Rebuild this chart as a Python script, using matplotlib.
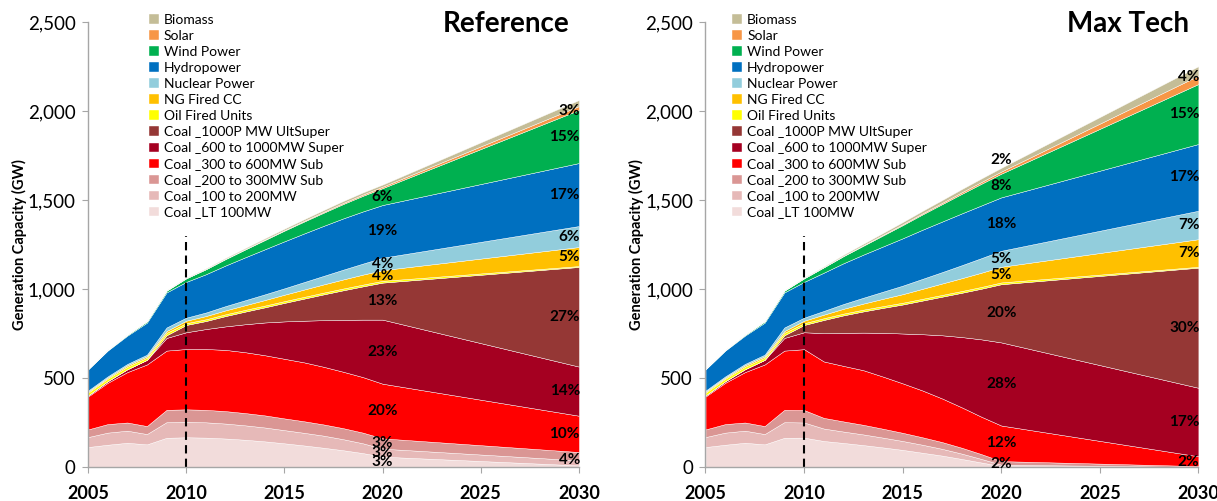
import matplotlib
matplotlib.use("Agg")
import matplotlib.pyplot as plt
import numpy as np

plt.rcParams['font.family'] = ['Lato', 'DejaVu Sans']

years = [2005, 2006, 2007, 2008, 2009, 2010, 2011, 2012, 2013, 2014,
         2015, 2016, 2017, 2018, 2019, 2020, 2030]

# bottom -> top
names = ['Coal _LT 100MW', 'Coal _100 to 200MW', 'Coal _200 to 300MW Sub',
         'Coal _300 to 600MW Sub', 'Coal _600 to 1000MW Super',
         'Coal _1000P MW UltSuper', 'Oil Fired Units', 'NG Fired CC',
         'Nuclear Power', 'Hydropower', 'Wind Power', 'Solar', 'Biomass']
colors = ['#F2DCDB', '#E6B9B8', '#DA9694', '#FF0000', '#A50021', '#953735',
          '#FFFF00', '#FFC000', '#92CDDC', '#0070C0', '#00B050', '#F79646',
          '#C4BD97']

# GW, Reference scenario
ref_lt100 = [112, 125, 136, 127, 164, 167, 165, 160, 153, 144, 133, 121, 108, 94, 78, 58, 9]
ref_c100 = [56, 68, 68, 58, 88, 87, 86, 84, 81, 78, 74, 71, 68, 62, 55, 45, 28]
ref_c200 = [43, 48, 46, 45, 69, 70, 70, 70, 69, 68, 66, 65, 63, 62, 60, 58, 47]
ref_c300 = [185, 232, 283, 346, 333, 339, 342, 344, 342, 338, 335, 331, 324, 317, 312, 307, 204]
ref_c600 = [6, 9, 16, 26, 71, 94, 112, 132, 157, 184, 210, 234, 262, 292, 323, 360, 276]
ref_c1000 = [0, 0, 0, 0, 15, 41, 45, 58, 71, 85, 104, 124, 145, 166, 187, 208, 560]
ref_oil = [15, 14, 14, 12, 14, 10, 10, 10, 10, 10, 10, 10, 10, 10, 10, 10, 5]
ref_ng = [6, 6, 8, 8, 10, 14, 18, 22, 26, 31, 36, 41, 46, 51, 56, 60, 107]
ref_nuc = [6, 7, 8, 9, 20, 17, 20, 24, 28, 32, 36, 42, 48, 55, 62, 70, 118]
ref_hydro = [119, 145, 159, 180, 197, 201, 215, 228, 241, 253, 264, 273, 281, 288, 293, 296, 354]
ref_wind = [2, 3, 5, 8, 10, 20, 28, 36, 44, 52, 60, 67, 74, 81, 88, 95, 298]
ref_solar = [0, 0, 0, 0, 0, 1, 1, 2, 2, 3, 3, 4, 5, 6, 7, 8, 22]
ref_bio = [1, 1, 1, 1, 2, 3, 4, 5, 6, 7, 8, 9, 10, 11, 12, 12, 34]

# GW, Max Tech scenario
mt_lt100 = [112, 125, 136, 127, 164, 165, 146, 135, 123, 110, 96, 80, 64, 45, 25, 5, 0]
mt_c100 = [56, 68, 68, 58, 88, 85, 70, 64, 60, 55, 50, 45, 38, 30, 20, 8, 0]
mt_c200 = [43, 48, 46, 45, 69, 70, 60, 57, 54, 50, 46, 42, 38, 33, 27, 20, 5]
mt_c300 = [185, 232, 283, 346, 333, 342, 317, 312, 307, 293, 278, 263, 245, 227, 210, 200, 55]
mt_c600 = [6, 9, 16, 26, 71, 95, 159, 186, 211, 246, 280, 316, 355, 395, 435, 467, 385]
mt_c1000 = [0, 0, 0, 0, 15, 41, 74, 98, 119, 140, 163, 189, 217, 249, 285, 327, 675]
mt_oil = [15, 14, 14, 12, 14, 10, 10, 10, 10, 10, 10, 10, 10, 10, 10, 10, 5]
mt_ng = [6, 6, 8, 8, 10, 14, 20, 27, 34, 41, 48, 56, 64, 72, 80, 88, 155]
mt_nuc = [6, 7, 8, 9, 20, 17, 21, 27, 33, 40, 48, 56, 64, 73, 82, 90, 160]
mt_hydro = [119, 145, 159, 180, 197, 201, 215, 229, 242, 254, 266, 276, 284, 291, 296, 300, 375]
mt_wind = [2, 3, 5, 8, 10, 20, 30, 40, 50, 62, 74, 86, 98, 110, 122, 133, 337]
mt_solar = [0, 0, 0, 0, 0, 1, 1, 2, 3, 4, 5, 6, 7, 9, 10, 12, 47]
mt_bio = [1, 1, 1, 1, 2, 3, 4, 6, 8, 10, 12, 14, 16, 18, 20, 21, 53]

ref = [ref_lt100, ref_c100, ref_c200, ref_c300, ref_c600, ref_c1000, ref_oil,
       ref_ng, ref_nuc, ref_hydro, ref_wind, ref_solar, ref_bio]
mt = [mt_lt100, mt_c100, mt_c200, mt_c300, mt_c600, mt_c1000, mt_oil,
      mt_ng, mt_nuc, mt_hydro, mt_wind, mt_solar, mt_bio]

# share labels: (year, first layer, last layer, text)
ref_labels = [(2020, 0, 0, '3%'), (2020, 1, 1, '3%'), (2020, 2, 2, '3%'),
              (2020, 3, 3, '20%'), (2020, 4, 4, '23%'), (2020, 5, 5, '13%'),
              (2020, 7, 7, '4%'), (2020, 8, 8, '4%'), (2020, 9, 9, '19%'),
              (2020, 10, 10, '6%'),
              (2030, 0, 2, '4%'), (2030, 3, 3, '10%'), (2030, 4, 4, '14%'),
              (2030, 5, 5, '27%'), (2030, 7, 7, '5%'), (2030, 8, 8, '6%'),
              (2030, 9, 9, '17%'), (2030, 10, 10, '15%'), (2030, 11, 12, '3%')]
mt_labels = [(2020, 0, 2, '2%'), (2020, 3, 3, '12%'), (2020, 4, 4, '28%'),
             (2020, 5, 5, '20%'), (2020, 7, 7, '5%'), (2020, 8, 8, '5%'),
             (2020, 9, 9, '18%'), (2020, 10, 10, '8%'), (2020, 11, 12, '2%'),
             (2030, 0, 3, '2%'), (2030, 4, 4, '17%'), (2030, 5, 5, '30%'),
             (2030, 7, 7, '7%'), (2030, 8, 8, '7%'), (2030, 9, 9, '17%'),
             (2030, 10, 10, '15%'), (2030, 11, 12, '4%')]

fig = plt.figure(figsize=(12.17, 5.01), dpi=100)
ax1 = fig.add_axes([0.0723, 0.0679, 0.4034, 0.888])
ax2 = fig.add_axes([0.5797, 0.0679, 0.4050, 0.888])


def draw(ax, data, labels, title, leg_x):
    x = np.array(years)
    arr = np.array(data, dtype=float)
    ax.stackplot(x, arr, colors=colors, labels=names,
                 edgecolor='#ffffff', linewidth=0.3)
    cum = np.cumsum(arr, axis=0)
    ax.set_xlim(2005, 2030)
    ax.set_ylim(0, 2500)
    ax.set_xticks([2005, 2010, 2015, 2020, 2025, 2030])
    ax.set_yticks([0, 500, 1000, 1500, 2000, 2500])
    ax.set_yticklabels(['0', '500', '1,000', '1,500', '2,000', '2,500'])
    for s in ['top', 'right']:
        ax.spines[s].set_visible(False)
    for s in ['left', 'bottom']:
        ax.spines[s].set_color('#a6a6a6')
        ax.spines[s].set_linewidth(1.0)
    ax.tick_params(axis='y', colors='#a6a6a6', labelcolor='black',
                   labelsize=13.5, length=4, pad=5)
    ax.tick_params(axis='x', colors='#a6a6a6', labelcolor='black',
                   labelsize=13, length=4, pad=9)
    for t in ax.get_xticklabels():
        t.set_fontweight('bold')
    ax.set_ylabel('Generation Capacity (GW)', fontsize=10.5, fontweight='bold',
                  labelpad=0.5)
    ax.vlines(2010, 0, 1300, colors='black', linestyles=(0, (4, 2.5)), lw=1.5)

    for yr, i0, i1, txt in labels:
        k = years.index(yr)
        lo = cum[i0 - 1, k] if i0 > 0 else 0
        hi = cum[i1, k]
        ymid = (lo + hi) / 2
        if i1 == 12:
            ymid = hi + 45 if yr == 2020 else hi - 60
        if yr == 2030:
            ax.text(2030.05, ymid, txt, ha='right', va='center',
                    fontsize=11, fontweight='bold')
        else:
            ax.text(yr, ymid, txt, ha='center', va='center',
                    fontsize=11, fontweight='bold')

    h, l = ax.get_legend_handles_labels()
    ax.legend(h[::-1], l[::-1], loc='upper left',
              bbox_to_anchor=(leg_x, 1.04), frameon=False,
              fontsize=10, handlelength=0.7, handleheight=0.7,
              handletextpad=0.35, labelspacing=0.29, borderpad=0.2)
    ax.text(0.98, 1.025, title, transform=ax.transAxes, ha='right', va='top',
            fontsize=20, fontweight='bold')


draw(ax1, ref, ref_labels, 'Reference', 0.105)
draw(ax2, mt, mt_labels, 'Max Tech', 0.035)

fig.savefig('out.png', dpi=100)
